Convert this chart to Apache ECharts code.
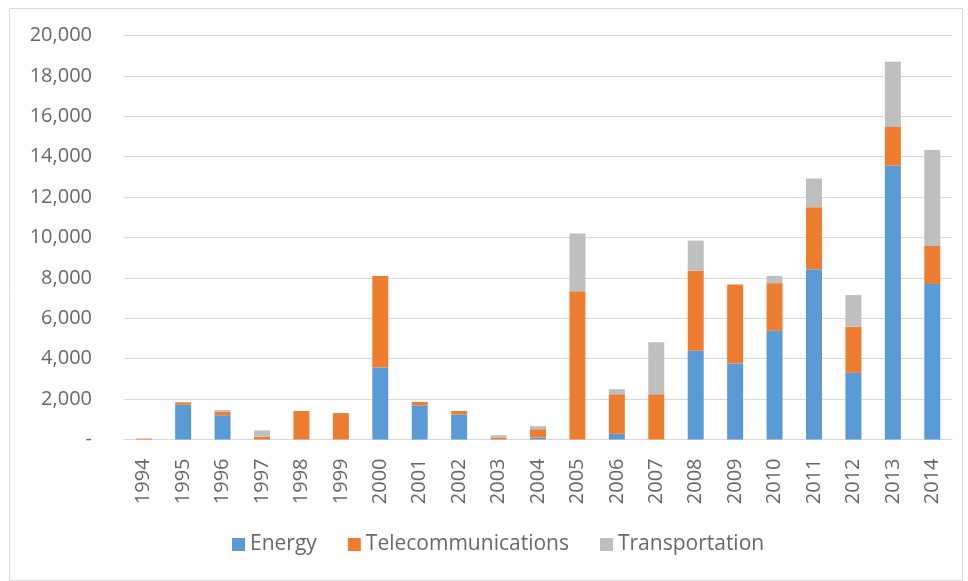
<!DOCTYPE html>
<html>
<head>
<meta charset="utf-8">
<script src="https://cdn.jsdelivr.net/npm/echarts@6/dist/echarts.min.js"></script>
<style>
  html, body { margin: 0; padding: 0; background: #ffffff; }
  #chart { width: 968px; height: 581px; }
</style>
</head>
<body>
<div id="chart"></div>
<script>
const years = ['1994','1995','1996','1997','1998','1999','2000','2001','2002','2003','2004',
               '2005','2006','2007','2008','2009','2010','2011','2012','2013','2014'];
const energy = [0, 1720, 1200, 0, 0, 0, 3560, 1690, 1230, 0, 100,
                0, 280, 0, 4390, 3760, 5380, 8430, 3300, 13560, 7700];
const telecommunications = [40, 120, 180, 140, 1410, 1310, 4540, 170, 180, 90, 410,
                            7340, 1960, 2240, 3960, 3910, 2360, 3070, 2280, 1910, 1880];
const transportation = [20, 0, 80, 310, 0, 0, 0, 0, 0, 120, 150,
                        2860, 250, 2570, 1500, 0, 360, 1420, 1570, 3230, 4750];
const yTicks = { min: 0, max: 20000, interval: 2000 };

const textColor = '#686868';
const fontFamily = '"Open Sans", "DejaVu Sans", sans-serif';

const chart = echarts.init(document.getElementById('chart'), null, { renderer: 'canvas' });

function barSeries(name, data, color) {
  return {
    name: name,
    type: 'bar',
    stack: 'total',
    data: data,
    barWidth: 16,
    itemStyle: { color: color },
    emphasis: { disabled: true }
  };
}

chart.setOption({
  animation: false,
  backgroundColor: '#ffffff',
  textStyle: { fontFamily: fontFamily },
  graphic: [{
    type: 'rect',
    left: 7, top: 6,
    shape: { width: 953, height: 572 },
    style: { fill: 'none', stroke: '#d9d9d9', lineWidth: 1 },
    silent: true
  }],
  grid: { left: 124, right: 16, top: 35.5, bottom: 141.5, containLabel: false },
  legend: {
    data: ['Energy', 'Telecommunications', 'Transportation'],
    left: 232,
    top: 534,
    padding: 0,
    itemWidth: 13,
    itemHeight: 13,
    itemGap: 31,
    icon: 'rect',
    textStyle: { color: textColor, fontSize: 21, fontFamily: fontFamily }
  },
  xAxis: {
    type: 'category',
    data: years,
    axisLine: { lineStyle: { color: '#d9d9d9', width: 1 } },
    axisTick: { show: false },
    axisLabel: { rotate: 90, color: textColor, fontSize: 20, margin: 19, interval: 0, fontFamily: fontFamily }
  },
  yAxis: {
    type: 'value',
    min: yTicks.min,
    max: yTicks.max,
    interval: yTicks.interval,
    axisLine: { show: false },
    axisTick: { show: false },
    splitLine: { lineStyle: { color: '#d9d9d9', width: 1 } },
    axisLabel: {
      color: textColor, fontSize: 20, margin: 32, fontFamily: fontFamily,
      formatter: function (v) { return v === 0 ? '-' : v.toLocaleString('en-US'); }
    }
  },
  series: [
    barSeries('Energy', energy, '#5B9BD5'),
    barSeries('Telecommunications', telecommunications, '#ED7D31'),
    barSeries('Transportation', transportation, '#BFBFBF')
  ]
});
</script>
</body>
</html>
